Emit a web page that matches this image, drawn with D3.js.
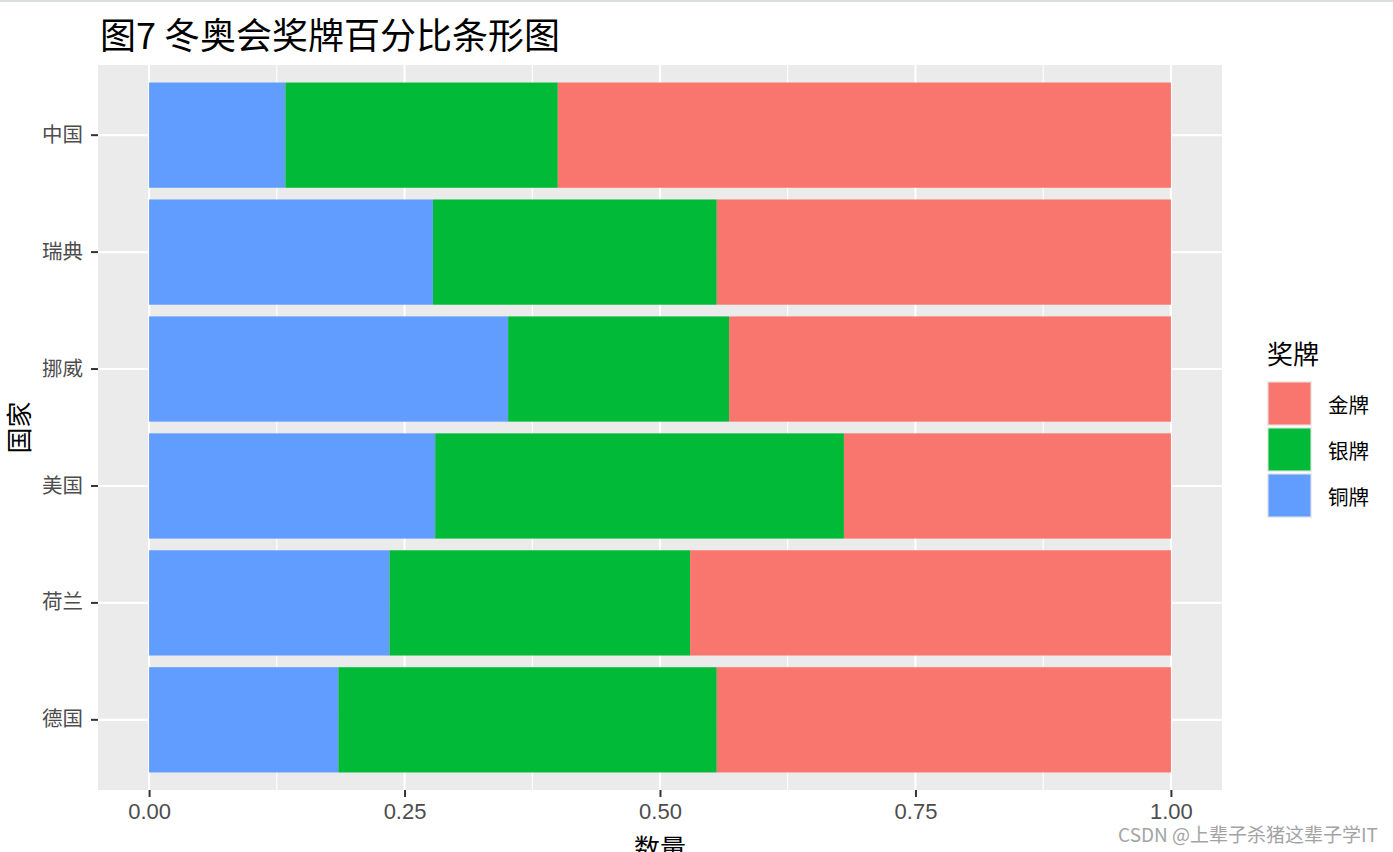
<!DOCTYPE html>
<html>
<head>
<meta charset="utf-8">
<script src="https://cdn.jsdelivr.net/npm/d3@7"></script>
<style>
  html, body { margin: 0; padding: 0; background: #ffffff; }
  svg { display: block; }
</style>
</head>
<body>
<svg id="chart" width="1393" height="852"></svg>
<script>
// ---- data (medal counts, shown as proportions) ----
const countries = ["中国", "瑞典", "挪威", "美国", "荷兰", "德国"];
const goldCounts = [9, 8, 16, 8, 8, 12];
const silverCounts = [4, 5, 8, 10, 5, 10];
const bronzeCounts = [2, 5, 13, 7, 4, 5];
const medalNames = ["金牌", "银牌", "铜牌"];
const medalColors = ["#F8766D", "#00BA38", "#619CFF"];
const xTickValues = [0, 0.25, 0.5, 0.75, 1];
const xTickLabels = ["0.00", "0.25", "0.50", "0.75", "1.00"];
const titleText = "图7 冬奥会奖牌百分比条形图";
const xTitle = "数量";
const yTitle = "国家";
const legendTitle = "奖牌";
const watermark = "CSDN @上辈子杀猪这辈子学IT";

const rows = countries.map((c, i) => ({
  country: c,
  "金牌": goldCounts[i],
  "银牌": silverCounts[i],
  "铜牌": bronzeCounts[i]
}));

const svg = d3.select("#chart");
const CJK = "'Noto Sans CJK SC', 'Noto Sans', sans-serif";
const LAT = "'Liberation Sans', Arial, sans-serif";

// top border line of screenshot
svg.append("rect").attr("x", 0).attr("y", 0).attr("width", 1393).attr("height", 2)
  .attr("fill", "#d9dde0");

const panel = { left: 98, right: 1222, top: 65, bottom: 790 };

// x scale with ggplot-like 5% expansion
const x = d3.scaleLinear()
  .domain([-0.05, 1.05])
  .range([panel.left, panel.right]);

const y = d3.scaleBand()
  .domain(countries)
  .range([panel.top, panel.bottom])
  .paddingInner(0.1)
  .paddingOuter(0.15);

const color = d3.scaleOrdinal().domain(medalNames).range(medalColors);

// panel background
svg.append("rect")
  .attr("x", panel.left).attr("y", panel.top)
  .attr("width", panel.right - panel.left)
  .attr("height", panel.bottom - panel.top)
  .attr("fill", "#EBEBEB");

// minor grid
const minor = [0.125, 0.375, 0.625, 0.875];
svg.append("g").selectAll("line").data(minor).join("line")
  .attr("x1", d => x(d)).attr("x2", d => x(d))
  .attr("y1", panel.top).attr("y2", panel.bottom)
  .attr("stroke", "#ffffff").attr("stroke-width", 1.1);

// major grid
svg.append("g").selectAll("line").data(xTickValues).join("line")
  .attr("x1", d => x(d)).attr("x2", d => x(d))
  .attr("y1", panel.top).attr("y2", panel.bottom)
  .attr("stroke", "#ffffff").attr("stroke-width", 2.1);
svg.append("g").selectAll("line").data(countries).join("line")
  .attr("x1", panel.left).attr("x2", panel.right)
  .attr("y1", d => y(d) + y.bandwidth() / 2).attr("y2", d => y(d) + y.bandwidth() / 2)
  .attr("stroke", "#ffffff").attr("stroke-width", 2.1);

// stacked proportions: bronze from the left, then silver, then gold
const stack = d3.stack()
  .keys(["铜牌", "银牌", "金牌"])
  .offset(d3.stackOffsetExpand);
const series = stack(rows);

svg.append("g").selectAll("g").data(series).join("g")
  .attr("fill", s => color(s.key))
  .selectAll("rect").data(s => s).join("rect")
  .attr("x", d => x(d[0]))
  .attr("width", d => x(d[1]) - x(d[0]))
  .attr("y", d => y(d.data.country))
  .attr("height", y.bandwidth());

// x axis
const xAxis = d3.axisBottom(x)
  .tickValues(xTickValues)
  .tickFormat((d, i) => xTickLabels[i])
  .tickSize(7)
  .tickPadding(6);
const gx = svg.append("g")
  .attr("transform", `translate(0,${panel.bottom})`)
  .call(xAxis);
gx.select(".domain").remove();
gx.selectAll(".tick line").attr("stroke", "#333333").attr("stroke-width", 2);
gx.selectAll(".tick text")
  .attr("fill", "#4D4D4D")
  .attr("font-family", LAT)
  .attr("font-size", 22);

// y axis
const yAxis = d3.axisLeft(y).tickSize(7).tickPadding(8);
const gy = svg.append("g")
  .attr("transform", `translate(${panel.left},0)`)
  .call(yAxis);
gy.select(".domain").remove();
gy.selectAll(".tick line").attr("stroke", "#333333").attr("stroke-width", 2);
gy.selectAll(".tick text")
  .attr("fill", "#4D4D4D")
  .attr("font-family", CJK)
  .attr("font-size", 20.5);

// title
svg.append("text")
  .attr("x", 100).attr("y", 33)
  .attr("dominant-baseline", "central")
  .attr("font-family", CJK)
  .attr("font-size", 36)
  .attr("fill", "#000000")
  .text(titleText);

// axis titles
svg.append("text")
  .attr("x", (panel.left + panel.right) / 2).attr("y", 846)
  .attr("text-anchor", "middle")
  .attr("dominant-baseline", "central")
  .attr("font-family", CJK)
  .attr("font-size", 26)
  .attr("fill", "#000000")
  .text(xTitle);

svg.append("text")
  .attr("transform", `translate(17,${(panel.top + panel.bottom) / 2}) rotate(-90)`)
  .attr("text-anchor", "middle")
  .attr("dominant-baseline", "central")
  .attr("font-family", CJK)
  .attr("font-size", 26)
  .attr("fill", "#000000")
  .text(yTitle);

// legend
const legend = svg.append("g");
legend.append("text")
  .attr("x", 1267).attr("y", 352)
  .attr("dominant-baseline", "central")
  .attr("font-family", CJK)
  .attr("font-size", 26)
  .attr("fill", "#000000")
  .text(legendTitle);

const keyTop = 381, keyStep = 46, keyW = 45, keyH = 45;
const items = legend.selectAll("g.item").data(medalNames).join("g")
  .attr("class", "item")
  .attr("transform", (d, i) => `translate(1267,${keyTop + i * keyStep})`);
items.append("rect")
  .attr("width", keyW).attr("height", keyH)
  .attr("fill", "#EBEBEB");
items.append("rect")
  .attr("x", 1.5).attr("y", 1.5)
  .attr("width", keyW - 3).attr("height", keyH - 3)
  .attr("fill", d => color(d));
items.append("text")
  .attr("x", 61).attr("y", keyH / 2)
  .attr("dominant-baseline", "central")
  .attr("font-family", CJK)
  .attr("font-size", 20.5)
  .attr("fill", "#000000")
  .text(d => d);

// watermark
svg.append("text")
  .attr("x", 1378).attr("y", 833)
  .attr("text-anchor", "end")
  .attr("dominant-baseline", "central")
  .attr("font-family", CJK)
  .attr("font-size", 19)
  .attr("fill", "#9a9a9a")
  .attr("opacity", 0.9)
  .text(watermark);
</script>
</body>
</html>
